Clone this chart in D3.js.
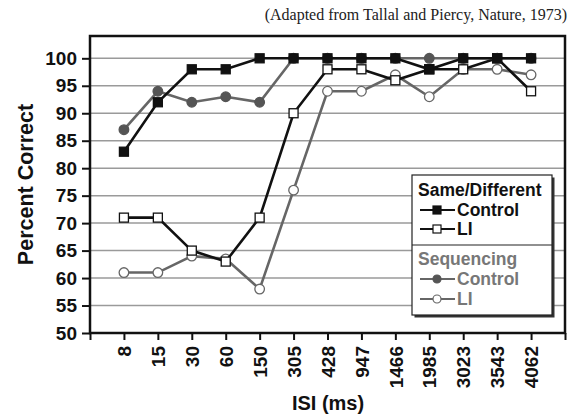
<!DOCTYPE html>
<html>
<head>
<meta charset="utf-8">
<script src="https://cdn.jsdelivr.net/npm/d3@7"></script>
<style>
body{margin:0;background:#fff;}
svg{display:block;}
</style>
</head>
<body>
<svg id="chart" width="571" height="417"></svg>
<script>
const categories = ["8","15","30","60","150","305","428","947","1466","1985","3023","3543","4062"];
const sdControl = [83,92,98,98,100,100,100,100,100,98,100,100,100];
const sdLI      = [71,71,65,63,71,90,98,98,96,98,98,100,94];
const seqControl= [87,94,92,93,92,100,100,100,100,100,100,100,100];
const seqLI     = [61,61,64,63.5,58,76,94,94,97,93,98,98,97];
const yTicks = [50,55,60,65,70,75,80,85,90,95,100];

const svg = d3.select("#chart");
const L=90, R=565, T=36, B=333;
const x = d3.scaleLinear().domain([0,14]).range([L,R]);
const y = d3.scaleLinear().domain([50,104.06]).range([B,T]);
const SANS = "Liberation Sans, Arial, Helvetica, sans-serif";

// title
svg.append("text").attr("x",567).attr("y",20).attr("text-anchor","end")
  .attr("font-family","Liberation Serif, Times New Roman, serif").attr("font-size",16).attr("fill","#222")
  .text("(Adapted from Tallal and Piercy, Nature, 1973)");

// grid
svg.append("g").selectAll("line").data(yTicks.slice(1)).join("line")
  .attr("x1",L).attr("x2",R).attr("y1",d=>y(d)).attr("y2",d=>y(d))
  .attr("stroke","#9a9a9a").attr("stroke-width",1.5);

// y axis
const yAxis = d3.axisLeft(y).tickValues(yTicks).tickSize(8).tickPadding(5);
const gy = svg.append("g").attr("transform",`translate(${L},0)`).call(yAxis);
gy.select(".domain").remove();
gy.selectAll(".tick line").attr("stroke","#111").attr("stroke-width",2);
gy.selectAll(".tick text").attr("font-family",SANS)
  .attr("font-weight","bold").attr("font-size",19).attr("fill","#111");

// x axis
const xAxis = d3.axisBottom(x).tickValues(d3.range(0,15)).tickSize(7)
  .tickFormat(i=> (i>=1 && i<=13) ? categories[i-1] : "");
const gx = svg.append("g").attr("transform",`translate(0,${B})`).call(xAxis);
gx.select(".domain").remove();
gx.selectAll(".tick line").attr("stroke","#111").attr("stroke-width",2);
gx.selectAll(".tick text").attr("font-family",SANS)
  .attr("font-weight","bold").attr("font-size",19).attr("fill","#111")
  .attr("transform","rotate(-90)").attr("text-anchor","end")
  .attr("x",-13).attr("y",0).attr("dy","0.35em");

// plot frame
svg.append("rect").attr("x",L).attr("y",T).attr("width",R-L).attr("height",B-T)
  .attr("fill","none").attr("stroke","#111").attr("stroke-width",2.5);

// axis titles
svg.append("text").attr("transform",`translate(33,${(T+B)/2}) rotate(-90)`)
  .attr("text-anchor","middle").attr("font-family",SANS)
  .attr("font-weight","bold").attr("font-size",21.5).attr("fill","#111").text("Percent Correct");
svg.append("text").attr("x",328).attr("y",410).attr("text-anchor","middle")
  .attr("font-family",SANS)
  .attr("font-weight","bold").attr("font-size",20).attr("fill","#111").text("ISI (ms)");

const line = d3.line().x((d,i)=>x(i+1)).y(d=>y(d));
const gray = "#666";
const dark = "#555";

function drawSeries(vals, color, shape, fill, stroke){
  svg.append("path").datum(vals).attr("d",line).attr("fill","none")
    .attr("stroke",color).attr("stroke-width",2.6);
  const g = svg.append("g");
  if(shape==="square"){
    g.selectAll("rect").data(vals).join("rect")
      .attr("x",(d,i)=>x(i+1)-4.5).attr("y",d=>y(d)-4.5).attr("width",9).attr("height",9)
      .attr("fill",fill).attr("stroke",stroke).attr("stroke-width",1.3);
  } else {
    g.selectAll("circle").data(vals).join("circle")
      .attr("cx",(d,i)=>x(i+1)).attr("cy",d=>y(d)).attr("r",4.8)
      .attr("fill",fill).attr("stroke",stroke).attr("stroke-width",1.3);
  }
}
drawSeries(seqLI, gray, "circle", "#fff", gray);
drawSeries(sdLI, "#111", "square", "#fff", "#111");
drawSeries(seqControl, gray, "circle", dark, dark);
drawSeries(sdControl, "#111", "square", "#111", "#111");

// legend
const lx=412, ly=175, lw=140, lh=140;
svg.append("rect").attr("x",lx+2.5).attr("y",ly+2.5).attr("width",lw).attr("height",lh).attr("fill","#333");
svg.append("rect").attr("x",lx).attr("y",ly).attr("width",lw).attr("height",lh)
  .attr("fill","#fff").attr("stroke","#222").attr("stroke-width",1.2);
svg.append("line").attr("x1",lx).attr("x2",lx+lw).attr("y1",245).attr("y2",245)
  .attr("stroke","#222").attr("stroke-width",1.2);

const legendItems = [
  {type:"head", text:"Same/Different", color:"#111", y:196},
  {type:"item", text:"Control", color:"#111", y:216, shape:"square", fill:"#111", stroke:"#111"},
  {type:"item", text:"LI", color:"#111", y:235, shape:"square", fill:"#fff", stroke:"#111"},
  {type:"head", text:"Sequencing", color:"#777", y:265},
  {type:"item", text:"Control", color:"#777", y:285, shape:"circle", fill:dark, stroke:dark},
  {type:"item", text:"LI", color:"#777", y:305, shape:"circle", fill:"#fff", stroke:gray}
];
const lg = svg.append("g");
legendItems.forEach(it=>{
  if(it.type==="head"){
    lg.append("text").attr("x",418).attr("y",it.y).attr("font-family",SANS)
      .attr("font-weight","bold").attr("font-size",17.5).attr("fill",it.color).text(it.text);
  } else {
    const cy = it.y-6;
    const lc = it.shape==="square" ? "#111" : gray;
    lg.append("line").attr("x1",420).attr("x2",455).attr("y1",cy).attr("y2",cy)
      .attr("stroke",lc).attr("stroke-width",2);
    if(it.shape==="square"){
      lg.append("rect").attr("x",433).attr("y",cy-4).attr("width",8).attr("height",8)
        .attr("fill",it.fill).attr("stroke",it.stroke).attr("stroke-width",1.2);
    } else {
      lg.append("circle").attr("cx",437).attr("cy",cy).attr("r",4)
        .attr("fill",it.fill).attr("stroke",it.stroke).attr("stroke-width",1.2);
    }
    lg.append("text").attr("x",457).attr("y",it.y).attr("font-family",SANS)
      .attr("font-weight","bold").attr("font-size",17.5).attr("fill",it.color).text(it.text);
  }
});
</script>
</body>
</html>
